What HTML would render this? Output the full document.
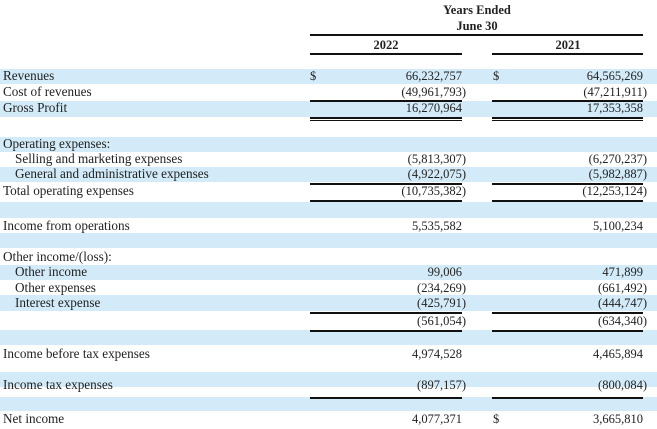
<!DOCTYPE html><html><head><style>
body{margin:0;width:657px;height:429px;background:#fff;position:relative;overflow:hidden;font-family:"Liberation Serif",serif;font-size:12.5px;color:#222}
.b{position:absolute;left:0;width:657px;background:#d3ebf8}
.t{position:absolute;white-space:nowrap;line-height:16px}
.lb{font-size:13.2px}
.r1{position:absolute;right:195px;text-align:right;line-height:16px}
.r2{position:absolute;right:14px;text-align:right;line-height:16px}
.p{margin-right:-4px}
.l{position:absolute;height:2px;background:#111}
.c1{left:310px;width:152px}.c2{left:492px;width:151px}
.h{position:absolute;font-weight:bold;line-height:16px;text-align:center;white-space:nowrap}
</style></head><body>
<div class="b" style="top:69px;height:15px"></div>
<div class="b" style="top:101px;height:16px"></div>
<div class="b" style="top:137px;height:15px"></div>
<div class="b" style="top:167px;height:15px"></div>
<div class="b" style="top:202px;height:16px"></div>
<div class="b" style="top:233px;height:15px"></div>
<div class="b" style="top:265px;height:15px"></div>
<div class="b" style="top:295px;height:16px"></div>
<div class="b" style="top:330px;height:15px"></div>
<div class="b" style="top:372px;height:15px"></div>
<div class="b" style="top:397px;height:14px"></div>

<div class="h" style="left:417px;width:120px;top:2px">Years Ended</div>
<div class="h" style="left:417px;width:120px;top:18px">June 30</div>
<div class="l" style="left:310px;width:333px;top:34px"></div>
<div class="h" style="left:346px;width:80px;top:37px">2022</div>
<div class="h" style="left:528px;width:80px;top:37px">2021</div>
<div class="l c1" style="top:53px"></div><div class="l c2" style="top:53px"></div>

<div class="t lb" style="left:3px;top:68px">Revenues</div>
<div class="t" style="left:310px;top:68px">$</div><div class="r1" style="top:68px">66,232,757</div>
<div class="t" style="left:493px;top:68px">$</div><div class="r2" style="top:68px">64,565,269</div>
<div class="t lb" style="left:3px;top:84px">Cost of revenues</div>
<div class="r1 p" style="top:84px">(49,961,793)</div><div class="r2 p" style="top:84px">(47,211,911)</div>
<div class="l c1" style="top:100px"></div><div class="l c2" style="top:100px"></div>
<div class="t lb" style="left:3px;top:100px">Gross Profit</div>
<div class="r1" style="top:100px">16,270,964</div><div class="r2" style="top:100px">17,353,358</div>
<div class="l c1" style="top:117px"></div><div class="l c2" style="top:117px"></div>
<div class="l c1" style="top:120px;height:1px"></div><div class="l c2" style="top:120px;height:1px"></div>

<div class="t lb" style="left:3px;top:136px">Operating expenses:</div>
<div class="t lb" style="left:15px;top:151px">Selling and marketing expenses</div>
<div class="r1 p" style="top:151px">(5,813,307)</div><div class="r2 p" style="top:151px">(6,270,237)</div>
<div class="t lb" style="left:15px;top:166px">General and administrative expenses</div>
<div class="r1 p" style="top:166px">(4,922,075)</div><div class="r2 p" style="top:166px">(5,982,887)</div>
<div class="l c1" style="top:183px"></div><div class="l c2" style="top:183px"></div>
<div class="t lb" style="left:3px;top:183px">Total operating expenses</div>
<div class="r1 p" style="top:183px">(10,735,382)</div><div class="r2 p" style="top:183px">(12,253,124)</div>
<div class="l c1" style="top:200px"></div><div class="l c2" style="top:200px"></div>

<div class="t lb" style="left:3px;top:218px">Income from operations</div>
<div class="r1" style="top:218px">5,535,582</div><div class="r2" style="top:218px">5,100,234</div>

<div class="t lb" style="left:3px;top:249px">Other income/(loss):</div>
<div class="t lb" style="left:15px;top:264px">Other income</div>
<div class="r1" style="top:264px">99,006</div><div class="r2" style="top:264px">471,899</div>
<div class="t lb" style="left:15px;top:280px">Other expenses</div>
<div class="r1 p" style="top:280px">(234,269)</div><div class="r2 p" style="top:280px">(661,492)</div>
<div class="t lb" style="left:15px;top:295px">Interest expense</div>
<div class="r1 p" style="top:295px">(425,791)</div><div class="r2 p" style="top:295px">(444,747)</div>
<div class="l c1" style="top:312px"></div><div class="l c2" style="top:312px"></div>
<div class="r1 p" style="top:313px">(561,054)</div><div class="r2 p" style="top:313px">(634,340)</div>
<div class="l c1" style="top:330px"></div><div class="l c2" style="top:330px"></div>

<div class="t lb" style="left:3px;top:346px">Income before tax expenses</div>
<div class="r1" style="top:346px">4,974,528</div><div class="r2" style="top:346px">4,465,894</div>
<div class="t lb" style="left:3px;top:377px">Income tax expenses</div>
<div class="r1 p" style="top:377px">(897,157)</div><div class="r2 p" style="top:377px">(800,084)</div>
<div class="l c1" style="top:397px"></div><div class="l c2" style="top:397px"></div>
<div class="t lb" style="left:3px;top:411px">Net income</div>
<div class="r1" style="top:411px">4,077,371</div>
<div class="t" style="left:493px;top:411px">$</div><div class="r2" style="top:411px">3,665,810</div>
</body></html>
